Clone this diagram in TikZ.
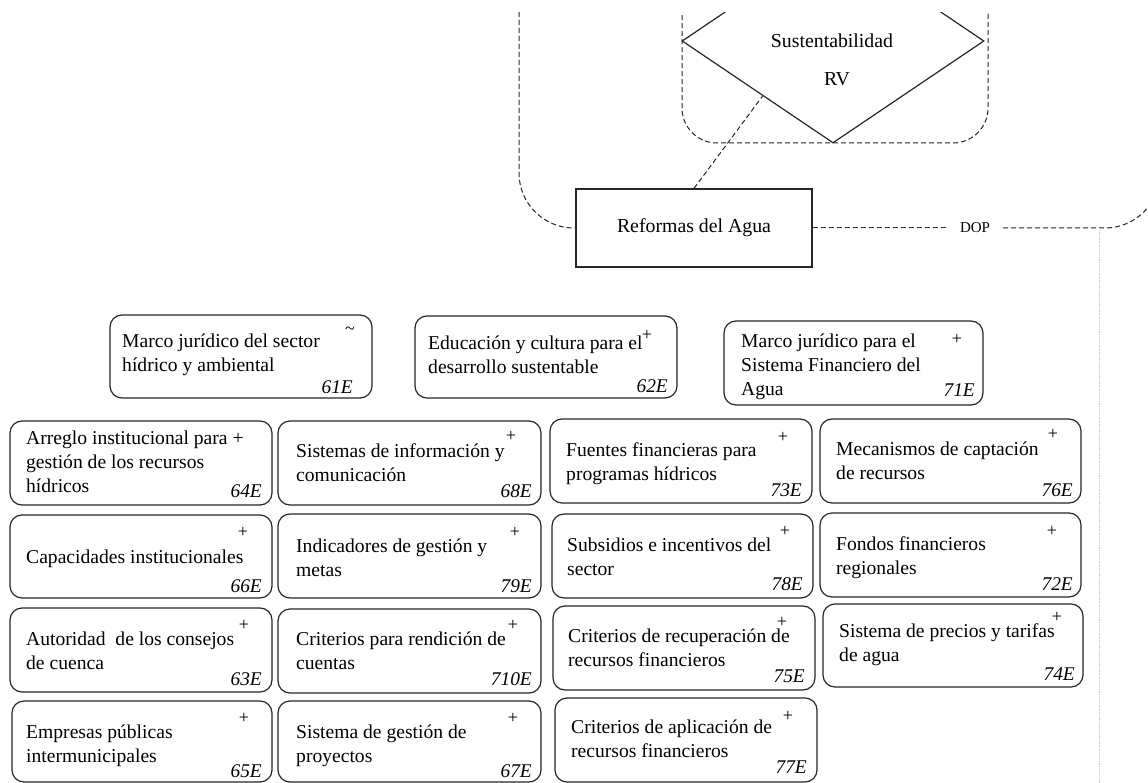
\documentclass[tikz,border=0pt]{standalone}
\usepackage{fontspec}
\setmainfont{Liberation Serif}
\usetikzlibrary{shapes.geometric,calc}
\newcommand\mlines[1]{\vtop{\halign{##\hfil\cr#1\crcr}}}
\newcommand\bx[5]{\node[rbox, minimum width={#4-#2}, minimum height={#5-#3}] (#1) at ({(#2+#4)/2},{(#3+#5)/2}) {};}
\tikzset{
  rbox/.style={draw=black!85, line width=1.2pt, rounded corners=12pt, inner sep=0pt},
  btxt/.style={anchor=base west, inner sep=0pt, font=\fontsize{19.6}{24}\selectfont},
  sgn/.style={inner sep=0pt, font=\fontsize{18}{18}\selectfont},
  lbl/.style={anchor=base east, inner sep=0pt, font=\fontsize{19.4}{19}\selectfont\itshape},
  dsh/.style={dash pattern=on 5pt off 3pt, line width=1pt, draw=black!85},
}
\begin{document}
\begin{tikzpicture}[x=1pt,y=-1pt]
\useasboundingbox (0,0) rectangle (1148,783);
\fill[white] (0,0) rectangle (1148,783);

% top structure
\node[draw=black!85, line width=1.2pt, minimum width=236, minimum height=78, inner sep=0pt, font=\fontsize{19.8}{20}\selectfont] (ref) at (694,228) {Reformas del Agua};
\node[inner xsep=13pt, inner ysep=2pt, font=\fontsize{15}{15}\selectfont] (dop) at (975,228) {DOP};
\begin{scope}
\clip (0,13) rectangle (1148,783);
\node[dsh, draw, rounded corners=35pt, minimum width=306, minimum height=200, inner sep=0pt] (rvbox) at (835,43) {};
\node[diamond, draw=black!85, line width=1.2pt, minimum width=302, minimum height=204, inner sep=0pt] (sust) at (833,41) {};
\draw[dsh, rounded corners=55pt] (519,-60) |- (ref.west);
\draw[dsh, rounded corners=55pt] (dop.east) -| (1160,-60);
\end{scope}
\node[inner sep=0pt, font=\fontsize{19.8}{20}\selectfont] (tsus) at (832,41) {Sustentabilidad};
\node[inner sep=0pt, font=\fontsize{19.8}{20}\selectfont] (trv) at (837,79) {RV};
\draw[dsh] (ref.east) -- (dop.west);
\draw[dsh] (ref.north) -- ($(sust.west)!0.536!(sust.south)$);
\coordinate (gt) at (1099,228);
\coordinate (gb) at (1099,783);
\draw[gray!45, line width=0.8pt, densely dotted] (gt) -- (gb);

% top row
\bx{b61}{110}{315}{372}{398}
\node[btxt] (t61) at (122,348) {\mlines{Marco jurídico del sector\cr hídrico y ambiental}};
\node[sgn] (s61) at (350,331) {\textasciitilde};
\node[lbl] (l61) at (353,393) {61E};

\bx{b62}{415}{316}{677}{398}
\node[btxt] (t62) at (428,350) {\mlines{Educación y cultura para el\cr desarrollo sustentable}};
\node[sgn] (s62) at (647,335) {+};
\node[lbl] (l62) at (668,392) {62E};

\bx{b71}{724}{321}{983}{405}
\node[btxt] (t71) at (741,348) {\mlines{Marco jurídico para el\cr Sistema Financiero del\cr Agua}};
\node[sgn] (s71) at (957,339) {+};
\node[lbl] (l71) at (975,396) {71E};

% row A
\bx{b64}{10}{421}{272}{505}
\node[btxt] (t64) at (26,444) {\mlines{Arreglo institucional para +\cr gestión de los recursos\cr hídricos}};
\node[lbl] (l64) at (262,497) {64E};

\bx{b68}{278}{421}{541}{505}
\node[btxt] (t68) at (296,457) {\mlines{Sistemas de información y\cr comunicación}};
\node[sgn] (s68) at (511,436) {+};
\node[lbl] (l68) at (532,497) {68E};

\bx{b73}{550}{419}{812}{503}
\node[btxt] (t73) at (566,456) {\mlines{Fuentes financieras para\cr programas hídricos}};
\node[sgn] (s73) at (783,437) {+};
\node[lbl] (l73) at (802,496) {73E};

\bx{b76}{820}{419}{1081}{503}
\node[btxt] (t76) at (836,455) {\mlines{Mecanismos de captación\cr de recursos}};
\node[sgn] (s76) at (1053,434) {+};
\node[lbl] (l76) at (1073,496) {76E};

% row B
\bx{b66}{10}{515}{272}{598}
\node[btxt] (t66) at (26,563) {\mlines{Capacidades institucionales}};
\node[sgn] (s66) at (243,532) {+};
\node[lbl] (l66) at (262,592) {66E};

\bx{b79}{278}{514}{541}{598}
\node[btxt] (t79) at (296,552) {\mlines{Indicadores de gestión y\cr metas}};
\node[sgn] (s79) at (515,532) {+};
\node[lbl] (l79) at (532,592) {79E};

\bx{b78}{552}{514}{813}{598}
\node[btxt] (t78) at (567,551) {\mlines{Subsidios e incentivos del\cr sector}};
\node[sgn] (s78) at (785,531) {+};
\node[lbl] (l78) at (803,590) {78E};

\bx{b72}{820}{513}{1081}{597}
\node[btxt] (t72) at (836,550) {\mlines{Fondos financieros\cr regionales}};
\node[sgn] (s72) at (1052,531) {+};
\node[lbl] (l72) at (1073,590) {72E};

% row C
\bx{b63}{10}{608}{272}{692}
\node[btxt] (t63) at (26,645) {\mlines{Autoridad\ \ de los consejos\cr de cuenca}};
\node[sgn] (s63) at (244,625) {+};
\node[lbl] (l63) at (262,685) {63E};

\bx{b710}{278}{609}{541}{693}
\node[btxt] (t710) at (296,645) {\mlines{Criterios para rendición de\cr cuentas}};
\node[sgn] (s710) at (513,625) {+};
\node[lbl] (l710) at (532,685) {710E};

\bx{b75}{553}{606}{815}{690}
\node[btxt] (t75) at (568,642) {\mlines{Criterios de recuperación de\cr recursos financieros}};
\node[sgn] (s75) at (782,622) {+};
\node[lbl] (l75) at (805,682) {75E};

\bx{b74}{823}{604}{1083}{687}
\node[btxt] (t74) at (839,637) {\mlines{Sistema de precios y tarifas\cr de agua}};
\node[sgn] (s74) at (1057,617) {+};
\node[lbl] (l74) at (1075,680) {74E};

% row D
\bx{b65}{12}{701}{272}{782}
\node[btxt] (t65) at (26,738) {\mlines{Empresas públicas\cr intermunicipales}};
\node[sgn] (s65) at (244,718) {+};
\node[lbl] (l65) at (262,777) {65E};

\bx{b67}{278}{701}{541}{782}
\node[btxt] (t67) at (296,738) {\mlines{Sistema de gestión de\cr proyectos}};
\node[sgn] (s67) at (513,718) {+};
\node[lbl] (l67) at (532,777) {67E};

\bx{b77}{555}{698}{817}{782}
\node[btxt] (t77) at (571,733) {\mlines{Criterios de aplicación de\cr recursos financieros}};
\node[sgn] (s77) at (788,716) {+};
\node[lbl] (l77) at (807,773) {77E};
\end{tikzpicture}
\end{document}
